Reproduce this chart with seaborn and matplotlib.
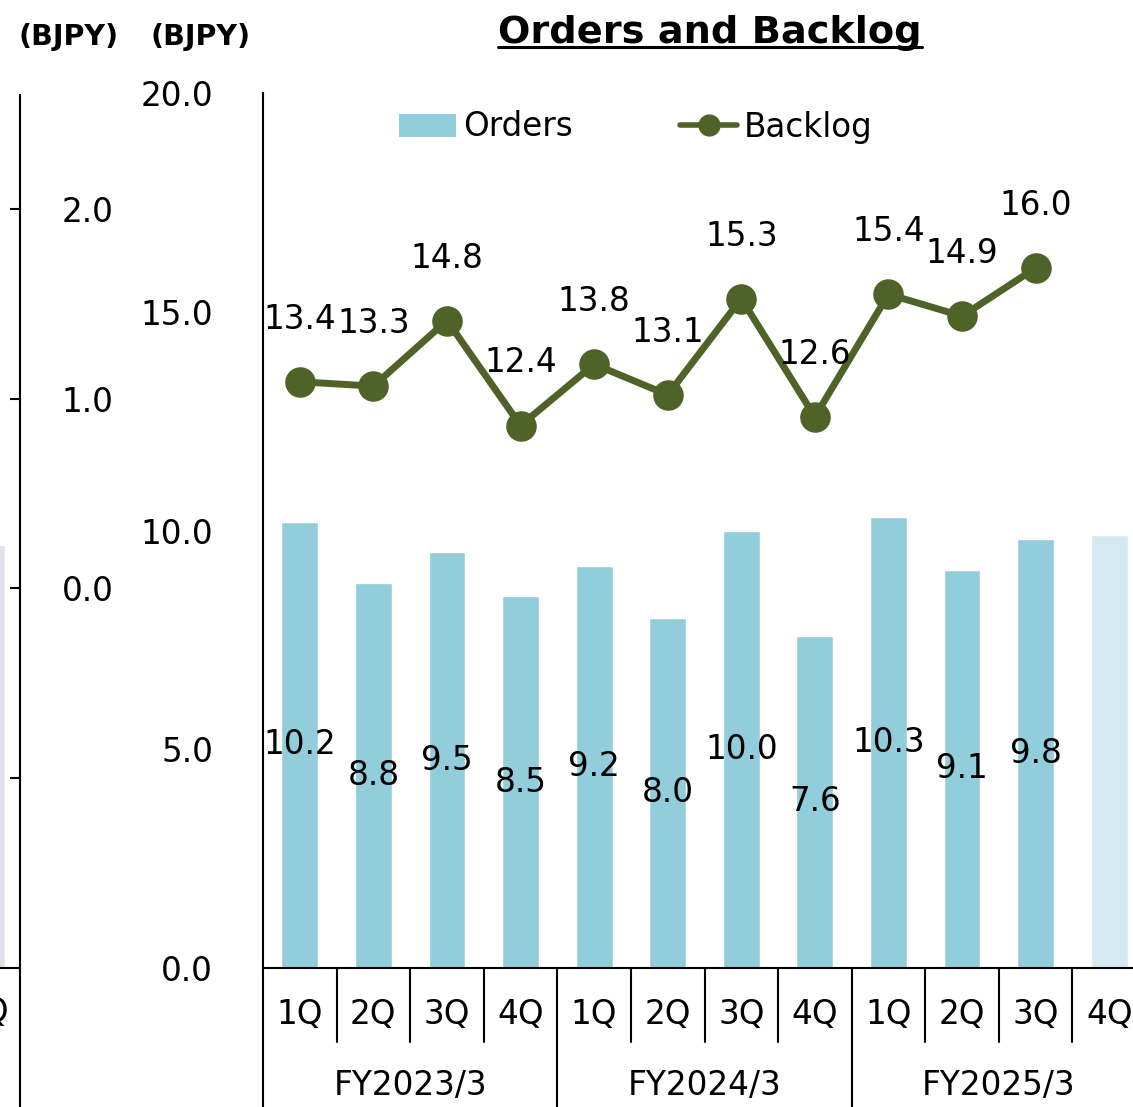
import matplotlib
matplotlib.use("Agg")
import matplotlib.pyplot as plt
import seaborn as sns
import numpy as np
import pandas as pd
from matplotlib.patches import Patch
from matplotlib.lines import Line2D

# data
fiscal_years = ["FY2023/3", "FY2024/3", "FY2025/3"]
quarters = ["1Q", "2Q", "3Q", "4Q"]
orders = [10.2, 8.8, 9.5, 8.5, 9.2, 8.0, 10.0, 7.6, 10.3, 9.1, 9.8, 9.9]
backlog = [13.4, 13.3, 14.8, 12.4, 13.8, 13.1, 15.3, 12.6, 15.4, 14.9, 16.0]
n_labelled_orders = 11  # last quarter is a forecast, drawn lighter, no label

# partial neighbouring chart at the left edge (cropped)
left_ticks = [2.0, 1.0, 0.0, -1.0]
left_tick_labels = ["2.0", "1.0", "0.0", ""]
left_bar = [0.23]

BAR = "#92CDDC"
BAR_FC = "#D3EAF1"
LINE = "#4F6228"
FS = 23.5

sns.set_theme(style="white")
plt.rcParams["font.family"] = ["DejaVu Sans"]

W, H = 1133, 1107
fig = plt.figure(figsize=(W / 100, H / 100), dpi=100)

def fx(px):
    return px / W

def fy(py):
    return 1 - py / H

cats = [f"{fy_} {q}" for fy_ in fiscal_years for q in quarters]
df = pd.DataFrame({"cat": cats, "orders": orders})
colors = [BAR] * (len(cats) - 1) + [BAR_FC]

# ---- main chart ----
ax = fig.add_axes([fx(263), fy(968), fx(1146) - fx(263), fy(93) - fy(968)])
sns.barplot(data=df, x="cat", y="orders", hue="cat", palette=colors,
            width=0.5, saturation=1, legend=False, ax=ax, zorder=2)
sns.lineplot(x=np.arange(len(backlog)), y=backlog, color=LINE, lw=5,
             marker="o", markersize=22, markeredgewidth=0, ax=ax, zorder=4)

ax.set_xlim(-0.5, len(cats) - 0.5)
ax.set_ylim(0, 20)
ax.set_yticks([0, 5, 10, 15, 20], ["0.0", "5.0", "10.0", "15.0", "20.0"])
ax.set_yticks([20], minor=True)
ax.tick_params(axis="y", which="major", length=0, pad=36, labelsize=FS,
               labelcolor="black")
ax.tick_params(axis="y", which="minor", left=True, direction="in",
               length=7, width=1.5, color="black")
ax.set_xticks([])
ax.set_xlabel("")
ax.set_ylabel("")
for s in ["top", "right"]:
    ax.spines[s].set_visible(False)
for s in ["left", "bottom"]:
    ax.spines[s].set_color("black")
    ax.spines[s].set_linewidth(1.5)

# data labels
for i, v in enumerate(orders[:n_labelled_orders]):
    ax.text(i, v / 2, f"{v:.1f}", ha="center", va="center", fontsize=FS,
            color="black", zorder=5)
for i, v in enumerate(backlog):
    ax.annotate(f"{v:.1f}", (i, v), xytext=(0, 45), textcoords="offset points",
                ha="center", va="center", fontsize=FS, color="black", zorder=5)

# multi-level category axis
tr = ax.get_xaxis_transform()
axh = 968 - 93
for i, c in enumerate(cats):
    ax.text(i, -(1015 - 968) / axh, c.split()[1], transform=tr, ha="center",
            va="center", fontsize=FS, color="black")
for j, f in enumerate(fiscal_years):
    ax.text(j * 4 + 1.5, -(1085 - 968) / axh, f, transform=tr, ha="center",
            va="center", fontsize=FS, color="black")
for i in range(len(cats) - 1):
    low = -(1107 - 968) / axh if (i + 1) % 4 == 0 else -(1042 - 968) / axh
    ax.plot([i + 0.5, i + 0.5], [0, low], transform=tr, color="black",
            lw=1.5, clip_on=False)
ax.plot([-0.5, -0.5], [0, -(1107 - 968) / axh], transform=tr, color="black",
        lw=1.5, clip_on=False)

# legend
handles = [Patch(facecolor=BAR, edgecolor="none"),
           Line2D([], [], color=LINE, lw=4, marker="o", markersize=15)]
fig.legend(handles, ["Orders", "Backlog"], loc="center",
           bbox_to_anchor=(fx(636), fy(127)), ncol=2, frameon=False,
           fontsize=FS, handlelength=1.75, handletextpad=0.2,
           columnspacing=3.3, borderpad=0, borderaxespad=0,
           labelcolor="black")

# ---- cropped chart on the left ----
axl = fig.add_axes([fx(-300), fy(968), fx(20) - fx(-300), fy(95) - fy(968)])
ymin = -2
axl.bar([0], [v - ymin for v in left_bar], bottom=ymin, width=0.5,
        color="#E4DFEC")
axl.set_xlim(-3.89, 0.46)
axl.set_ylim(ymin, 2.6)
axl.set_yticks(left_ticks, left_tick_labels)
axl.set_xticks([])
axl.tick_params(axis="y", left=False, right=True, labelleft=False,
                labelright=True, direction="in", length=7, width=1.5,
                color="black", pad=30, labelsize=FS, labelcolor="black")
for s in ["top", "left"]:
    axl.spines[s].set_visible(False)
for s in ["right", "bottom"]:
    axl.spines[s].set_color("black")
    axl.spines[s].set_linewidth(1.5)
axl.patch.set_alpha(0)
trl = axl.get_xaxis_transform()
axl.plot([1, 1], [0, -(1107 - 968) / 873], transform=axl.transAxes,
         color="black", lw=1.5, clip_on=False)
axl.text(0, -(1012 - 968) / 873, "4Q", transform=trl, ha="center",
         va="center", fontsize=FS, color="black")

# ---- titles ----
t = fig.text(fx(710), fy(43), "Orders and Backlog", ha="center",
             va="baseline", fontsize=27.5, fontweight="bold", color="black")
for xc in [69, 201]:
    fig.text(fx(xc), fy(37), "(BJPY)", ha="center", va="center",
             fontsize=20.5, fontweight="bold", color="black")

fig.canvas.draw()
bb = t.get_window_extent()
fig.add_artist(Line2D([bb.x0 / W, bb.x1 / W], [fy(47), fy(47)],
                      color="black", lw=2.2, transform=fig.transFigure))

fig.savefig("out.png", dpi=100)
